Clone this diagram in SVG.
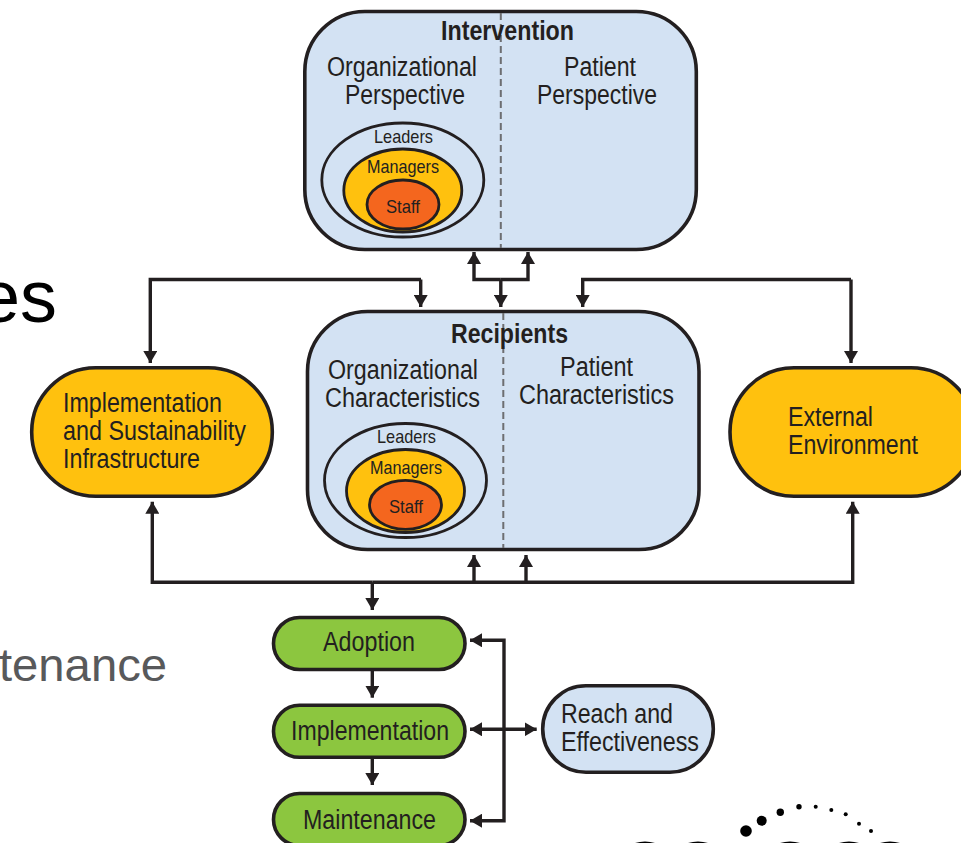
<svg xmlns="http://www.w3.org/2000/svg" width="961" height="843" viewBox="0 0 961 843">
<style>
text{font-family:"Liberation Sans",Arial,sans-serif;fill:#231f20;font-size:27px}
.s{font-size:19px}
.t{font-size:27px;font-weight:bold}
.box{stroke:#231f20;stroke-width:3.6}
.el{stroke:#231f20;stroke-width:2.8}
.blue{fill:#d3e2f3}
.or{fill:#ffc10e}
.red{fill:#f4661e}
.gr{fill:#8cc63f}
.none{fill:none}
.dash{fill:none;stroke:#6d6e71;stroke-width:2;stroke-dasharray:7 4}
.c{fill:none;stroke:#231f20;stroke-width:3.4}
</style>
<defs>
<marker id="a" markerUnits="userSpaceOnUse" markerWidth="14" markerHeight="14" refX="12" refY="7" orient="auto"><path d="M0 0L12 7L0 14z" fill="#231f20"/></marker>
</defs>
<text x="-21" y="322" style="font-size:74px;fill:#000" textLength="78" lengthAdjust="spacingAndGlyphs">es</text>
<text x="-1" y="681" style="font-size:46px;fill:#58595b" textLength="168" lengthAdjust="spacingAndGlyphs">tenance</text>
<g id="intervention">
<rect class="box blue" x="304.800" y="11.500" width="391.500" height="238" rx="60"/>
<path class="dash" d="M500.800 13V248"/>
<text class="t" x="441" y="40" textLength="133" lengthAdjust="spacingAndGlyphs">Intervention</text>
<text x="327" y="75.500" textLength="150" lengthAdjust="spacingAndGlyphs">Organizational</text>
<text x="345" y="104" textLength="120" lengthAdjust="spacingAndGlyphs">Perspective</text>
<text x="564" y="75.500" textLength="72" lengthAdjust="spacingAndGlyphs">Patient</text>
<text x="537" y="104" textLength="120" lengthAdjust="spacingAndGlyphs">Perspective</text>
<ellipse class="el none" cx="402.800" cy="180" rx="81" ry="57"/>
<ellipse class="el or" cx="402.800" cy="190.500" rx="59" ry="41.500"/>
<ellipse class="el red" cx="403" cy="204.500" rx="36" ry="24.500"/>
<text class="s" x="374" y="143" textLength="59" lengthAdjust="spacingAndGlyphs">Leaders</text>
<text class="s" x="367" y="173" textLength="72" lengthAdjust="spacingAndGlyphs">Managers</text>
<text class="s" x="386" y="213" textLength="34" lengthAdjust="spacingAndGlyphs">Staff</text>
</g>
<g id="recipients">
<rect class="box blue" x="307.500" y="311.500" width="391.500" height="238" rx="60"/>
<path class="dash" d="M503.300 313V548"/>
<text class="t" x="451" y="343" textLength="117" lengthAdjust="spacingAndGlyphs">Recipients</text>
<text x="328" y="379" textLength="150" lengthAdjust="spacingAndGlyphs">Organizational</text>
<text x="325" y="407" textLength="155" lengthAdjust="spacingAndGlyphs">Characteristics</text>
<text x="560" y="375.500" textLength="73" lengthAdjust="spacingAndGlyphs">Patient</text>
<text x="519" y="403.500" textLength="155" lengthAdjust="spacingAndGlyphs">Characteristics</text>
<ellipse class="el none" cx="405.500" cy="480.500" rx="81" ry="57"/>
<ellipse class="el or" cx="405.500" cy="491" rx="59" ry="41.500"/>
<ellipse class="el red" cx="405.500" cy="504.800" rx="36" ry="24.500"/>
<text class="s" x="377" y="443" textLength="59" lengthAdjust="spacingAndGlyphs">Leaders</text>
<text class="s" x="370" y="474" textLength="72" lengthAdjust="spacingAndGlyphs">Managers</text>
<text class="s" x="389" y="513" textLength="34" lengthAdjust="spacingAndGlyphs">Staff</text>
</g>
<g id="infrastructure">
<rect class="box or" x="31.700" y="367.700" width="240.600" height="128.600" rx="64"/>
<text x="63" y="411.700" textLength="159" lengthAdjust="spacingAndGlyphs">Implementation</text>
<text x="63" y="440" textLength="183" lengthAdjust="spacingAndGlyphs">and Sustainability</text>
<text x="63" y="468" textLength="137" lengthAdjust="spacingAndGlyphs">Infrastructure</text>
</g>
<g id="environment">
<rect class="box or" x="730" y="367.700" width="245" height="128.600" rx="64"/>
<text x="788" y="425.700" textLength="85" lengthAdjust="spacingAndGlyphs">External</text>
<text x="788" y="454" textLength="130" lengthAdjust="spacingAndGlyphs">Environment</text>
</g>
<g id="adoption">
<rect class="box gr" x="273.500" y="617.500" width="191.500" height="52" rx="26"/>
<text x="323" y="650.500" textLength="92" lengthAdjust="spacingAndGlyphs">Adoption</text>
</g>
<g id="implementation">
<rect class="box gr" x="273.500" y="705.300" width="191.500" height="52" rx="26"/>
<text x="291" y="739.500" textLength="158" lengthAdjust="spacingAndGlyphs">Implementation</text>
</g>
<g id="maintenance">
<rect class="box gr" x="273.500" y="793.500" width="191.500" height="52" rx="26"/>
<text x="303" y="828.500" textLength="133" lengthAdjust="spacingAndGlyphs">Maintenance</text>
</g>
<g id="reach">
<rect class="box blue" x="542.700" y="685.700" width="170.600" height="86.600" rx="43.300"/>
<text x="561" y="723" textLength="112" lengthAdjust="spacingAndGlyphs">Reach and</text>
<text x="561" y="751" textLength="138" lengthAdjust="spacingAndGlyphs">Effectiveness</text>
</g>
<g id="connectors">
<path class="c" marker-end="url(#a)" d="M421 279.500H150.300V363"/>
<path class="c" marker-end="url(#a)" d="M420.700 279.500V307"/>
<path class="c" marker-end="url(#a)" d="M851 279.500H582.700V307"/>
<path class="c" marker-end="url(#a)" d="M851 279.500V363"/>
<path class="c" marker-end="url(#a)" d="M500.800 279.500H474V252"/>
<path class="c" marker-end="url(#a)" d="M500.800 279.500H528V252"/>
<path class="c" marker-end="url(#a)" d="M500.800 279.500V307"/>
<path class="c" marker-end="url(#a)" d="M372.300 582.300H152.300V501.700"/>
<path class="c" marker-end="url(#a)" d="M372.300 582.300H852.700V501.700"/>
<path class="c" marker-end="url(#a)" d="M474 582.300V555"/>
<path class="c" marker-end="url(#a)" d="M526 582.300V555"/>
<path class="c" marker-end="url(#a)" d="M372.300 582.300V610"/>
<path class="c" marker-end="url(#a)" d="M372.300 671V697.700"/>
<path class="c" marker-end="url(#a)" d="M372.300 759V785"/>
<path class="c" marker-end="url(#a)" d="M504 729.300V640.300H470"/>
<path class="c" marker-end="url(#a)" d="M504 729.300V820.700H470"/>
<path class="c" marker-end="url(#a)" d="M504 729.300H470"/>
<path class="c" marker-end="url(#a)" d="M504 729.300H536.700"/>
</g>
<g id="logo" fill="#000">
<circle cx="746" cy="831" r="5.800"/><circle cx="761.700" cy="820.700" r="5"/><circle cx="780.300" cy="812.300" r="3.700"/><circle cx="799" cy="806.700" r="2.700"/><circle cx="815.700" cy="806.700" r="2"/><circle cx="831.300" cy="810" r="2"/><circle cx="845.700" cy="814.300" r="2"/><circle cx="859" cy="823.700" r="2"/><circle cx="871" cy="831" r="2"/>
<circle cx="645" cy="875.500" r="34"/><circle cx="698" cy="875.500" r="34"/><circle cx="790" cy="875.500" r="34"/><circle cx="849" cy="875.500" r="34"/><circle cx="890" cy="875.500" r="34"/>
</g>
</svg>
